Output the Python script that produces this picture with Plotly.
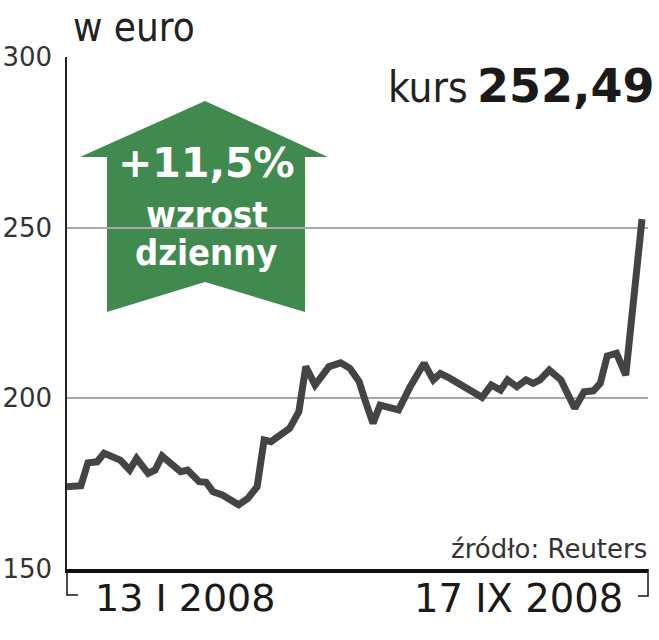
import plotly.graph_objects as go

# ---- data ----
dates = ["2008-01-13","2008-01-19","2008-01-22","2008-01-26","2008-01-29",
         "2008-02-05","2008-02-09","2008-02-12","2008-02-17","2008-02-20","2008-02-23",
         "2008-03-02","2008-03-05","2008-03-10","2008-03-13","2008-03-16","2008-03-20","2008-03-27","2008-03-31",
         "2008-04-04","2008-04-07","2008-04-10","2008-04-18","2008-04-22","2008-04-25","2008-04-29",
         "2008-05-05","2008-05-10","2008-05-14","2008-05-18","2008-05-21","2008-05-24","2008-05-27","2008-05-31",
         "2008-06-04","2008-06-09","2008-06-15","2008-06-19","2008-06-22","2008-06-26",
         "2008-07-02","2008-07-06","2008-07-10","2008-07-14","2008-07-18","2008-07-21","2008-07-25","2008-07-29",
         "2008-08-01","2008-08-04","2008-08-08","2008-08-13","2008-08-19","2008-08-23","2008-08-27","2008-08-30",
         "2008-09-02","2008-09-06","2008-09-10","2008-09-17"]
kurs = [174.1,174.4,181.1,181.4,183.9,
        181.9,179.0,182.4,178.0,179.0,183.1,
        178.5,179.0,175.6,175.4,172.6,171.7,168.8,170.7,
        174.1,187.8,187.3,191.2,196.1,209.3,203.9,
        209.3,210.4,208.8,204.9,198.5,192.7,198.0,197.4,
        196.6,203.4,210.3,205.4,207.3,205.9,
        203.4,201.9,200.3,203.9,202.4,205.4,203.4,205.4,
        204.4,205.4,208.3,205.4,197.1,201.9,202.2,204.4,
        212.4,213.2,206.8,252.49]
y_ticks = [150, 200, 250, 300]
y_tick_labels = ["150", "200", "250", "300"]
x_labels = ["13 I 2008", "17 IX 2008"]
unit_label = "w euro"
last_label = "252,49"
change_label = "+11,5%"
change_text = ["wzrost", "dzienny"]
source = "źródło: Reuters"

# ---- layout geometry (pixels) ----
W, H = 659, 640
L, R, T, B = 67, 648, 57, 569
FONT_C = "DejaVu Sans Condensed, DejaVu Sans, sans-serif"
FONT = "DejaVu Sans, sans-serif"


def px(x):
    return (x - L) / (R - L)


def py(y):
    return (B - y) / (B - T)


fig = go.Figure()
fig.add_trace(go.Scatter(x=dates, y=kurs, mode="lines",
                         line=dict(color="#444444", width=7),
                         hoverinfo="skip", showlegend=False))

# arrow
arrow_pts = [(205, 101), (328, 157), (305, 157), (305, 312), (205, 282),
             (107, 312), (107, 157), (80, 157)]
path = "M " + " L ".join(f"{px(x):.4f},{py(y):.4f}" for x, y in arrow_pts) + " Z"
shapes = [dict(type="path", path=path, xref="paper", yref="paper",
               fillcolor="#408a4f", line=dict(width=0), layer="below")]
# brackets
for pts in ([(67, 569), (67, 595), (78, 595)], [(648, 569), (648, 596), (638, 596)]):
    p = "M " + " L ".join(f"{px(x):.4f},{py(y):.4f}" for x, y in pts)
    shapes.append(dict(type="path", path=p, xref="paper", yref="paper",
                       line=dict(color="#111111", width=1.5)))

annotations = []


def ann(text, x, y, size, family, xanchor="center", color="#1a1a1a", bold=False):
    t = f"<b>{text}</b>" if bold else text
    annotations.append(dict(text=t, x=px(x), y=py(y), xref="paper", yref="paper",
                            xanchor=xanchor, yanchor="middle", showarrow=False,
                            borderpad=0,
                            font=dict(family=family, size=size, color=color)))


ann(unit_label, 72, 27, 40, FONT_C, xanchor="left", color="#222222")
ann("kurs", 469, 87, 42, FONT_C, xanchor="right", color="#222222")
ann(last_label, 656, 86, 46, FONT, xanchor="right", color="#1a1a1a", bold=True)
ann(change_label, 206, 163, 41, FONT, color="white", bold=True)
ann(change_text[0], 207, 214, 36, FONT_C, color="white", bold=True)
ann(change_text[1], 206, 252, 36, FONT_C, color="white", bold=True)
ann(source, 648, 549, 26, FONT, xanchor="right", color="#333333")
ann(x_labels[0], 185, 598, 38, FONT, color="#1a1a1a")
ann(x_labels[1], 518, 598, 38.5, FONT, color="#1a1a1a")

fig.update_layout(
    width=W, height=H,
    margin=dict(l=L, r=W - R, t=T, b=H - B, pad=0, autoexpand=False),
    paper_bgcolor="white", plot_bgcolor="white",
    shapes=shapes, annotations=annotations,
    xaxis=dict(range=["2008-01-13", "2008-09-19 14:00"], showgrid=False,
               showticklabels=False, ticks="", zeroline=False, automargin=False,
               showline=True, linecolor="#111111", linewidth=3.5),
    yaxis=dict(range=[150, 300], tickvals=y_ticks, ticktext=y_tick_labels,
               showgrid=True, gridcolor="#a8a8a8", gridwidth=1.5, automargin=False,
               zeroline=False, showline=True, linecolor="#222222", linewidth=1.5,
               ticks="", ticklabelstandoff=8,
               tickfont=dict(family=FONT, size=26, color="#333333")),
)

fig.write_html("out.html", config={"displayModeBar": False, "responsive": False},
               post_script="document.body.style.margin='0';document.body.style.overflow='hidden';")
